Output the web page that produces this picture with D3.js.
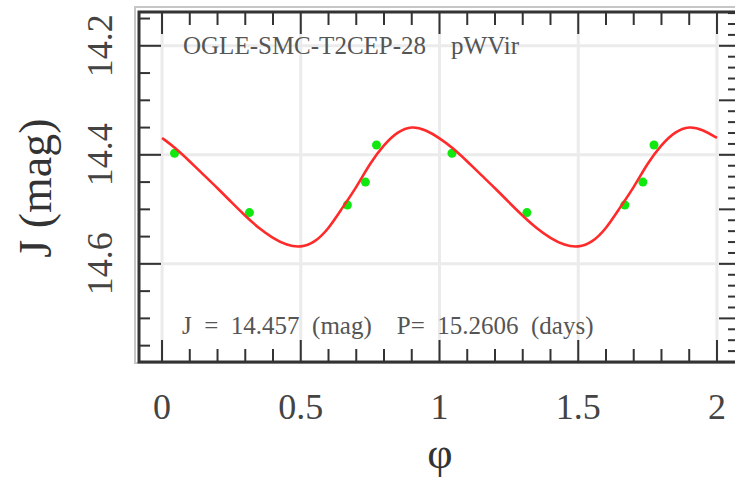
<!DOCTYPE html>
<html>
<head>
<meta charset="utf-8">
<script src="https://cdn.jsdelivr.net/npm/d3@7"></script>
<style>
  html, body { margin: 0; padding: 0; background: #fff; }
  svg { display: block; }
  text { font-family: "Liberation Serif", "Times New Roman", serif; }
</style>
</head>
<body>
<svg id="chart" width="735" height="477"></svg>
<script>
// light curve of OGLE-SMC-T2CEP-28, folded over two cycles

// observed points (one cycle; the plot repeats them at phase + 1)
const obsPhase = [0.045, 0.315, 0.668, 0.733, 0.773];
const obsMag = [14.397, 14.506, 14.492, 14.450, 14.382];

// fitted curve
const fitPhase = [0.00, 0.05, 0.10, 0.15, 0.20, 0.25, 0.30, 0.35, 0.40, 0.45, 0.50,
  0.55, 0.60, 0.65, 0.70, 0.75, 0.80, 0.85, 0.90, 0.95, 1.00];
const fitMag = [14.369, 14.388, 14.412, 14.437, 14.461, 14.487, 14.512, 14.535, 14.553, 14.566, 14.570,
  14.561, 14.536, 14.497, 14.460, 14.415, 14.381, 14.357, 14.347, 14.354, 14.369];

const cycles = [0, 1];
const xTickLabels = ["0", "0.5", "1", "1.5", "2"];
const xTickValues = [0, 0.5, 1, 1.5, 2];
const yTickLabels = ["14.2", "14.4", "14.6"];
const yTickValues = [14.2, 14.4, 14.6];

const starName = "OGLE-SMC-T2CEP-28";
const starType = "pWVir";
const meanJ = "14.457";
const period = "15.2606";

const INK = "#333";
const GRID = "#ebebeb";

const svg = d3.select("#chart");
const box = { left: 139, top: 12, right: 740, bottom: 362 };

const x = d3.scaleLinear().domain([-0.083, 2.083]).range([box.left, box.right]);
const y = d3.scaleLinear().domain([14.138, 14.780]).range([box.top, box.bottom]);

svg.append("rect").attr("width", 735).attr("height", 477).attr("fill", "#fff");

// faint outer border
svg.append("rect")
  .attr("x", box.left - 4).attr("y", box.top - 5)
  .attr("width", box.right - box.left + 10).attr("height", box.bottom - box.top + 6)
  .attr("fill", "none").attr("stroke", "#c6c6c6").attr("stroke-width", 2);

// grid
const grid = svg.append("g").attr("stroke", GRID).attr("stroke-width", 3);
grid.selectAll("line.v").data(xTickValues).join("line")
  .attr("x1", d => x(d)).attr("x2", d => x(d))
  .attr("y1", box.top).attr("y2", box.bottom);
grid.selectAll("line.h").data(yTickValues).join("line")
  .attr("x1", box.left).attr("x2", box.right)
  .attr("y1", d => y(d)).attr("y2", d => y(d));

// ticks: top/bottom x, left and right y
const ticks = svg.append("g").attr("stroke", INK).attr("stroke-width", 2);
const xMinor = d3.range(0, 21).map(i => i / 10);
xMinor.forEach(v => {
  const major = Math.abs(v * 2 - Math.round(v * 2)) < 1e-6;
  const len = major ? 22 : 13;
  ticks.append("line").attr("x1", x(v)).attr("x2", x(v)).attr("y1", box.top).attr("y2", box.top + len);
  ticks.append("line").attr("x1", x(v)).attr("x2", x(v)).attr("y1", box.bottom).attr("y2", box.bottom - len);
});
const yLeftMinor = d3.range(3, 16).map(i => 14 + i * 0.05);
yLeftMinor.forEach(v => {
  const major = yTickValues.some(t => Math.abs(t - v) < 1e-6);
  ticks.append("line").attr("x1", box.left).attr("x2", box.left + (major ? 22 : 11))
    .attr("y1", y(v)).attr("y2", y(v));
});
const yRightMinor = d3.range(7, 40).map(i => 14 + i * 0.02);
yRightMinor.forEach(v => {
  const major = Math.abs(v * 10 - Math.round(v * 10)) < 1e-6;
  ticks.append("line").attr("x1", box.right).attr("x2", box.right - (major ? 21 : 12))
    .attr("y1", y(v)).attr("y2", y(v));
});

// data points (drawn under the fit)
const pts = [];
cycles.forEach(c => obsPhase.forEach((p, i) => pts.push([p + c, obsMag[i]])));
svg.append("g").selectAll("circle").data(pts).join("circle")
  .attr("cx", d => x(d[0])).attr("cy", d => y(d[1]))
  .attr("r", 4.5).attr("fill", "#10e810");

// fitted curve
const fit = [];
cycles.forEach(c => fitPhase.forEach((p, i) => {
  if (c > 0 && i === 0) return;
  fit.push([p + c, fitMag[i]]);
}));
svg.append("path").datum(fit)
  .attr("d", d3.line().x(d => x(d[0])).y(d => y(d[1])).curve(d3.curveBasis))
  .attr("fill", "none").attr("stroke", "#ff2a2a").attr("stroke-width", 2.6);

// frame
svg.append("rect")
  .attr("x", box.left).attr("y", box.top)
  .attr("width", box.right - box.left).attr("height", box.bottom - box.top)
  .attr("fill", "none").attr("stroke", INK).attr("stroke-width", 3);

// tick labels
svg.append("g").selectAll("text").data(xTickValues).join("text")
  .attr("x", d => x(d)).attr("y", 419)
  .attr("text-anchor", "middle").attr("font-size", 36).attr("fill", "#444")
  .text((d, i) => xTickLabels[i]);
svg.append("g").selectAll("text").data(yTickValues).join("text")
  .attr("transform", d => `translate(112,${y(d)}) rotate(-90)`)
  .attr("text-anchor", "middle").attr("font-size", 36).attr("fill", "#444")
  .text((d, i) => yTickLabels[i]);

// axis titles
svg.append("text").attr("transform", "translate(51,188) rotate(-90)")
  .attr("text-anchor", "middle").attr("font-size", 46).attr("fill", "#333")
  .text("J (mag)");
svg.append("text").attr("x", 440).attr("y", 468)
  .attr("text-anchor", "middle").attr("font-size", 44).attr("fill", "#333")
  .text("φ");

// in-plot labels
svg.append("text").attr("x", 183).attr("y", 54)
  .attr("font-size", 25).attr("fill", "#555").attr("xml:space", "preserve")
  .style("white-space", "pre")
  .text(`${starName}    ${starType}`);
svg.append("text").attr("x", 182).attr("y", 334)
  .attr("font-size", 25).attr("fill", "#555").attr("xml:space", "preserve")
  .style("white-space", "pre")
  .text(`J  =  ${meanJ}  (mag)    P=  ${period}  (days)`);
</script>
</body>
</html>
